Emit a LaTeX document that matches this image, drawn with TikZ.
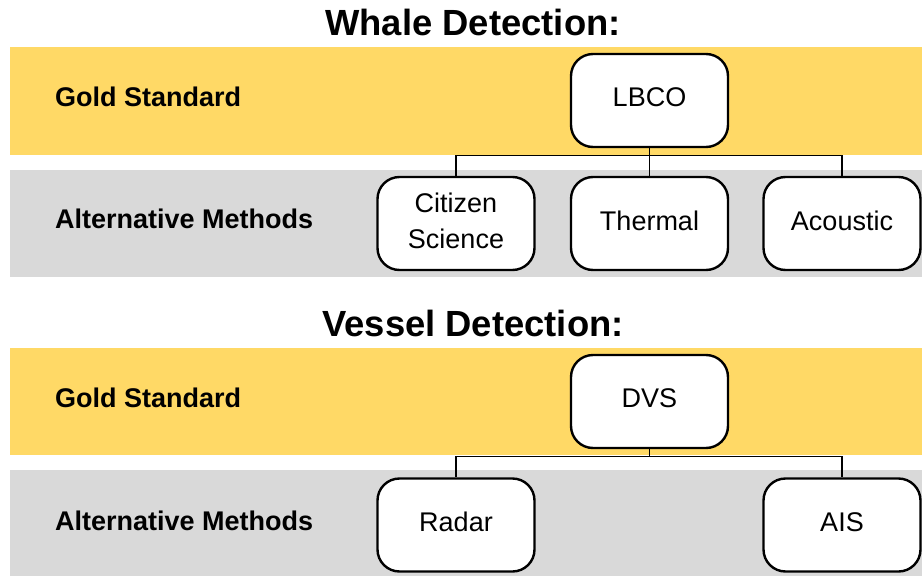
\documentclass[tikz,border=0pt]{standalone}
\usepackage{fontspec}
\setmainfont{Liberation Sans}
\definecolor{goldband}{HTML}{FFD966}
\definecolor{grayband}{HTML}{D9D9D9}
\begin{document}
\begin{tikzpicture}[x=1pt,y=-1pt,
  band/.style={draw=none},
  method/.style={draw=black, line width=2.4pt, rounded corners=22pt, fill=white,
    minimum width=157pt, minimum height=93pt, inner sep=0pt, align=center,
    text depth=6pt, font=\fontsize{27}{36}\selectfont},
  rowlabel/.style={anchor=west, inner sep=0pt, font=\fontsize{27}{30}\selectfont\bfseries},
  heading/.style={inner sep=0pt, font=\fontsize{36.4}{40}\selectfont\bfseries},
  link/.style={draw=black, line width=1.2pt}]
\useasboundingbox (0,0) rectangle (922,576);
% bands
\fill[goldband] (10,47) rectangle (922,155);
\fill[grayband] (10,170) rectangle (922,277);
\fill[goldband] (10,348) rectangle (922,455);
\fill[grayband] (10,470) rectangle (922,576);
% headings
\node[heading] (t1) at (473,22) {Whale Detection:};
\node[heading] (t2) at (473,323) {Vessel Detection:};
% row labels
\node[rowlabel] (g1) at (55,97) {Gold Standard};
\node[rowlabel] (a1) at (55,219) {Alternative Methods};
\node[rowlabel] (g2) at (55,398) {Gold Standard};
\node[rowlabel] (a2) at (55,521) {Alternative Methods};
% whale nodes
\node[method] (lbco) at (649.5,100.5) {LBCO};
\node[method] (cit) at (456,223.5) {Citizen\\Science};
\node[method] (thm) at (649.5,223.5) {Thermal};
\node[method] (aco) at (842,223.5) {Acoustic};
% vessel nodes
\node[method] (dvs) at (649.5,401.5) {DVS};
\node[method] (rad) at (456,525) {Radar};
\node[method] (ais) at (842,525) {AIS};
% connectors
\draw[link] (lbco.south) -- ++(0,7) -| (cit.north);
\draw[link] (lbco.south) -- ++(0,7) -| (thm.north);
\draw[link] (lbco.south) -- ++(0,7) -| (aco.north);
\draw[link] (dvs.south) -- ++(0,7) -| (rad.north);
\draw[link] (dvs.south) -- ++(0,7) -| (ais.north);
\end{tikzpicture}
\end{document}
